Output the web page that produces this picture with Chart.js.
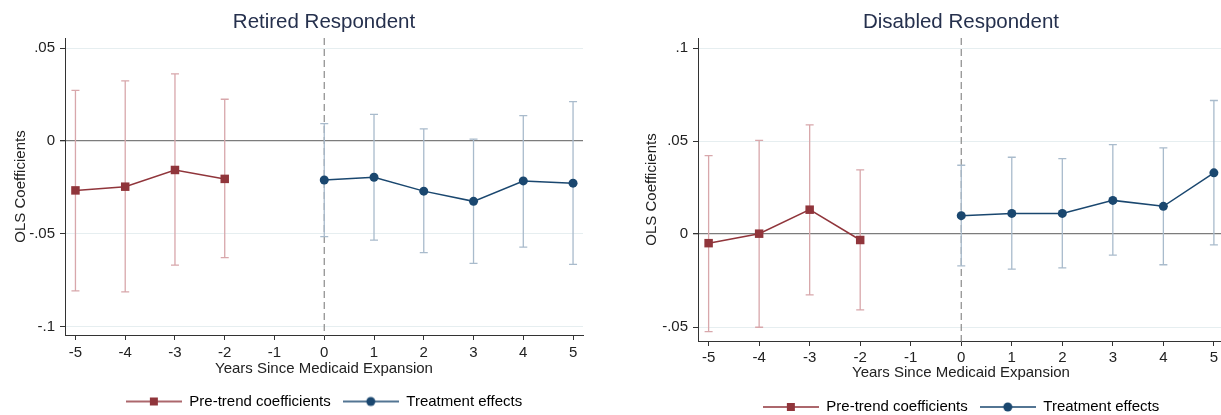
<!DOCTYPE html>
<html>
<head>
<meta charset="utf-8">
<script src="https://cdn.jsdelivr.net/npm/chart.js@4.4.0/dist/chart.umd.min.js"></script>
<style>
  html, body { margin: 0; padding: 0; background: #fff; }
  body { width: 1221px; height: 415px; overflow: hidden; position: relative; }
  canvas { position: absolute; top: 0; }
  #retired { left: 0; }
  #disabled { left: 610px; }
</style>
</head>
<body>
<canvas id="retired" width="648" height="415"></canvas>
<canvas id="disabled" width="702" height="415"></canvas>
<script>
// years on the x axis
const preYears = [-5, -4, -3, -2];
const postYears = [0, 1, 2, 3, 4, 5];
const xTicks = [-5, -4, -3, -2, -1, 0, 1, 2, 3, 4, 5];
const xTickLabels = ['-5', '-4', '-3', '-2', '-1', '0', '1', '2', '3', '4', '5'];

// Retired respondent
const retiredPre = [-0.0266, -0.0246, -0.0156, -0.0204];
const retiredPreLo = [-0.0807, -0.0813, -0.0669, -0.0628];
const retiredPreHi = [0.0273, 0.0324, 0.0362, 0.0225];
const retiredPost = [-0.0210, -0.0195, -0.0270, -0.0325, -0.0215, -0.0227];
const retiredPostLo = [-0.0515, -0.0534, -0.0601, -0.0659, -0.0572, -0.0664];
const retiredPostHi = [0.0094, 0.0144, 0.0065, 0.0010, 0.0137, 0.0212];
const retiredYTicks = [-0.1, -0.05, 0, 0.05];
const retiredYLabels = ['-.1', '-.05', '0', '.05'];

// Disabled respondent
const disabledPre = [-0.0049, 0.0002, 0.0131, -0.0032];
const disabledPreLo = [-0.0525, -0.0501, -0.0327, -0.0408];
const disabledPreHi = [0.0422, 0.0504, 0.0587, 0.0345];
const disabledPost = [0.0099, 0.0111, 0.0111, 0.0181, 0.0149, 0.0329];
const disabledPostLo = [-0.0171, -0.0189, -0.0182, -0.0113, -0.0165, -0.0058];
const disabledPostHi = [0.0370, 0.0413, 0.0406, 0.0481, 0.0463, 0.0718];
const disabledYTicks = [-0.05, 0, 0.05, 0.1];
const disabledYLabels = ['-.05', '0', '.05', '.1'];

const FONT = "'Liberation Sans', Arial, sans-serif";
const RED = '#90353b', NAVY = '#1a476f';
const RED_CI = '#d8a7ab', NAVY_CI = '#a9bbcc';
const TEXT = '#222';

Chart.defaults.font.family = FONT;

// line + marker icon for the legend
function legendIcon(color, shape) {
    const c = document.createElement('canvas');
    c.width = 56; c.height = 12;
    const g = c.getContext('2d');
    g.strokeStyle = color; g.lineWidth = 1.5;
    g.beginPath(); g.moveTo(0, 6); g.lineTo(56, 6); g.stroke();
    g.fillStyle = color;
    if (shape === 'rect') {
        g.fillRect(24, 2, 8, 8);
    } else {
        g.beginPath(); g.arc(28, 6, 4.5, 0, Math.PI * 2); g.fill();
    }
    return c;
}
const icons = [legendIcon(RED, 'rect'), legendIcon(NAVY, 'circle')];

// confidence intervals + dashed line at year 0
const ciPlugin = {
    id: 'ciBars',
    beforeDatasetsDraw(chart) {
        const { ctx, chartArea, scales: { x, y } } = chart;
        ctx.save();
        const x0 = x.getPixelForValue(0);
        ctx.strokeStyle = '#8a8a8a';
        ctx.lineWidth = 1.2;
        ctx.setLineDash([7, 4]);
        ctx.beginPath();
        ctx.moveTo(x0, chartArea.top);
        ctx.lineTo(x0, chartArea.bottom);
        ctx.stroke();
        ctx.setLineDash([]);

        chart.data.datasets.forEach(ds => {
            ctx.strokeStyle = ds.ciColor;
            ctx.lineWidth = 1.3;
            ds.data.forEach((p, i) => {
                const px = x.getPixelForValue(p.x);
                const top = y.getPixelForValue(ds.hi[i]);
                const bot = y.getPixelForValue(ds.lo[i]);
                ctx.beginPath();
                ctx.moveTo(px, top); ctx.lineTo(px, bot);
                ctx.moveTo(px - 4, top); ctx.lineTo(px + 4, top);
                ctx.moveTo(px - 4, bot); ctx.lineTo(px + 4, bot);
                ctx.stroke();
            });
        });
        ctx.restore();
    }
};

function drawPanel(id, p) {
    new Chart(document.getElementById(id), {
        type: 'line',
        data: {
            datasets: [
                {
                    label: 'Pre-trend coefficients',
                    data: preYears.map((x, i) => ({ x, y: p.pre[i] })),
                    lo: p.preLo, hi: p.preHi, ciColor: RED_CI,
                    borderColor: RED, backgroundColor: RED, borderWidth: 1.5,
                    pointStyle: 'rect', pointRadius: 6, pointBorderWidth: 0
                },
                {
                    label: 'Treatment effects',
                    data: postYears.map((x, i) => ({ x, y: p.post[i] })),
                    lo: p.postLo, hi: p.postHi, ciColor: NAVY_CI,
                    borderColor: NAVY, backgroundColor: NAVY, borderWidth: 1.5,
                    pointStyle: 'circle', pointRadius: 4.5, pointBorderWidth: 0
                }
            ]
        },
        options: {
            responsive: false,
            animation: false,
            events: [],
            layout: { padding: { left: 0, right: 0, top: 0, bottom: p.padBottom } },
            plugins: {
                title: {
                    display: true, text: p.title, color: '#25304d',
                    font: { size: 20.5, weight: 'normal' },
                    padding: { top: 9.7, bottom: 3.7 }
                },
                legend: {
                    position: 'bottom',
                    labels: {
                        usePointStyle: true, pointStyleWidth: 56, padding: 12,
                        color: TEXT, font: { size: 15 },
                        generateLabels: chart => chart.data.datasets.map((ds, i) => ({
                            text: ds.label, pointStyle: icons[i], fillStyle: ds.borderColor,
                            strokeStyle: ds.borderColor, lineWidth: 0, hidden: false, datasetIndex: i
                        }))
                    }
                },
                tooltip: { enabled: false }
            },
            scales: {
                x: {
                    type: 'linear', min: -5.21, max: 5.2,
                    afterBuildTicks: a => { a.ticks = xTicks.map(v => ({ value: v })); },
                    afterFit: s => { s.height = p.xHeight; },
                    grid: { drawOnChartArea: false, drawTicks: true, tickLength: 5, tickColor: '#333' },
                    border: { color: '#333', width: 1 },
                    ticks: {
                        callback: (v, i) => xTickLabels[i], color: TEXT, font: { size: 15 },
                        padding: p.xTickPad, autoSkip: false, maxRotation: 0
                    },
                    title: {
                        display: true, text: 'Years Since Medicaid Expansion', color: TEXT,
                        font: { size: 15 }, padding: { top: 0, bottom: p.xTitlePad }
                    }
                },
                y: {
                    min: p.yMin, max: p.yMax,
                    afterBuildTicks: a => { a.ticks = p.yTicks.map(v => ({ value: v })); },
                    afterFit: s => { s.width = p.yWidth; },
                    grid: {
                        color: c => c.tick.value === 0 ? '#7c7c7c' : '#e6eef0',
                        lineWidth: c => c.tick.value === 0 ? 1.3 : 1,
                        tickLength: 5, tickColor: '#333'
                    },
                    border: { color: '#333', width: 1 },
                    ticks: { callback: (v, i) => p.yLabels[i], color: TEXT, font: { size: 15 }, padding: 5 },
                    title: {
                        display: true, text: 'OLS Coefficients', color: TEXT,
                        font: { size: 15 }, padding: { top: p.yTitlePad, bottom: 0 }
                    }
                },
                // empty right axis, keeps title and legend centred on the plot
                yRight: {
                    position: 'right', display: true,
                    afterFit: s => { s.width = p.yWidth; },
                    grid: { display: false }, border: { display: false },
                    ticks: { display: false }, title: { display: false }
                }
            }
        },
        plugins: [ciPlugin]
    });
}

drawPanel('retired', {
    title: 'Retired Respondent',
    pre: retiredPre, preLo: retiredPreLo, preHi: retiredPreHi,
    post: retiredPost, postLo: retiredPostLo, postHi: retiredPostHi,
    yTicks: retiredYTicks, yLabels: retiredYLabels, yMin: -0.1045, yMax: 0.0555,
    yWidth: 65, yTitlePad: 12, padBottom: -4, xHeight: 47, xTickPad: 4, xTitlePad: 4
});

drawPanel('disabled', {
    title: 'Disabled Respondent',
    pre: disabledPre, preLo: disabledPreLo, preHi: disabledPreHi,
    post: disabledPost, postLo: disabledPostLo, postHi: disabledPostHi,
    yTicks: disabledYTicks, yLabels: disabledYLabels, yMin: -0.0575, yMax: 0.1054,
    yWidth: 88, yTitlePad: 33, padBottom: -9.5, xHeight: 46.5, xTickPad: 3, xTitlePad: 5.5
});
</script>
</body>
</html>
